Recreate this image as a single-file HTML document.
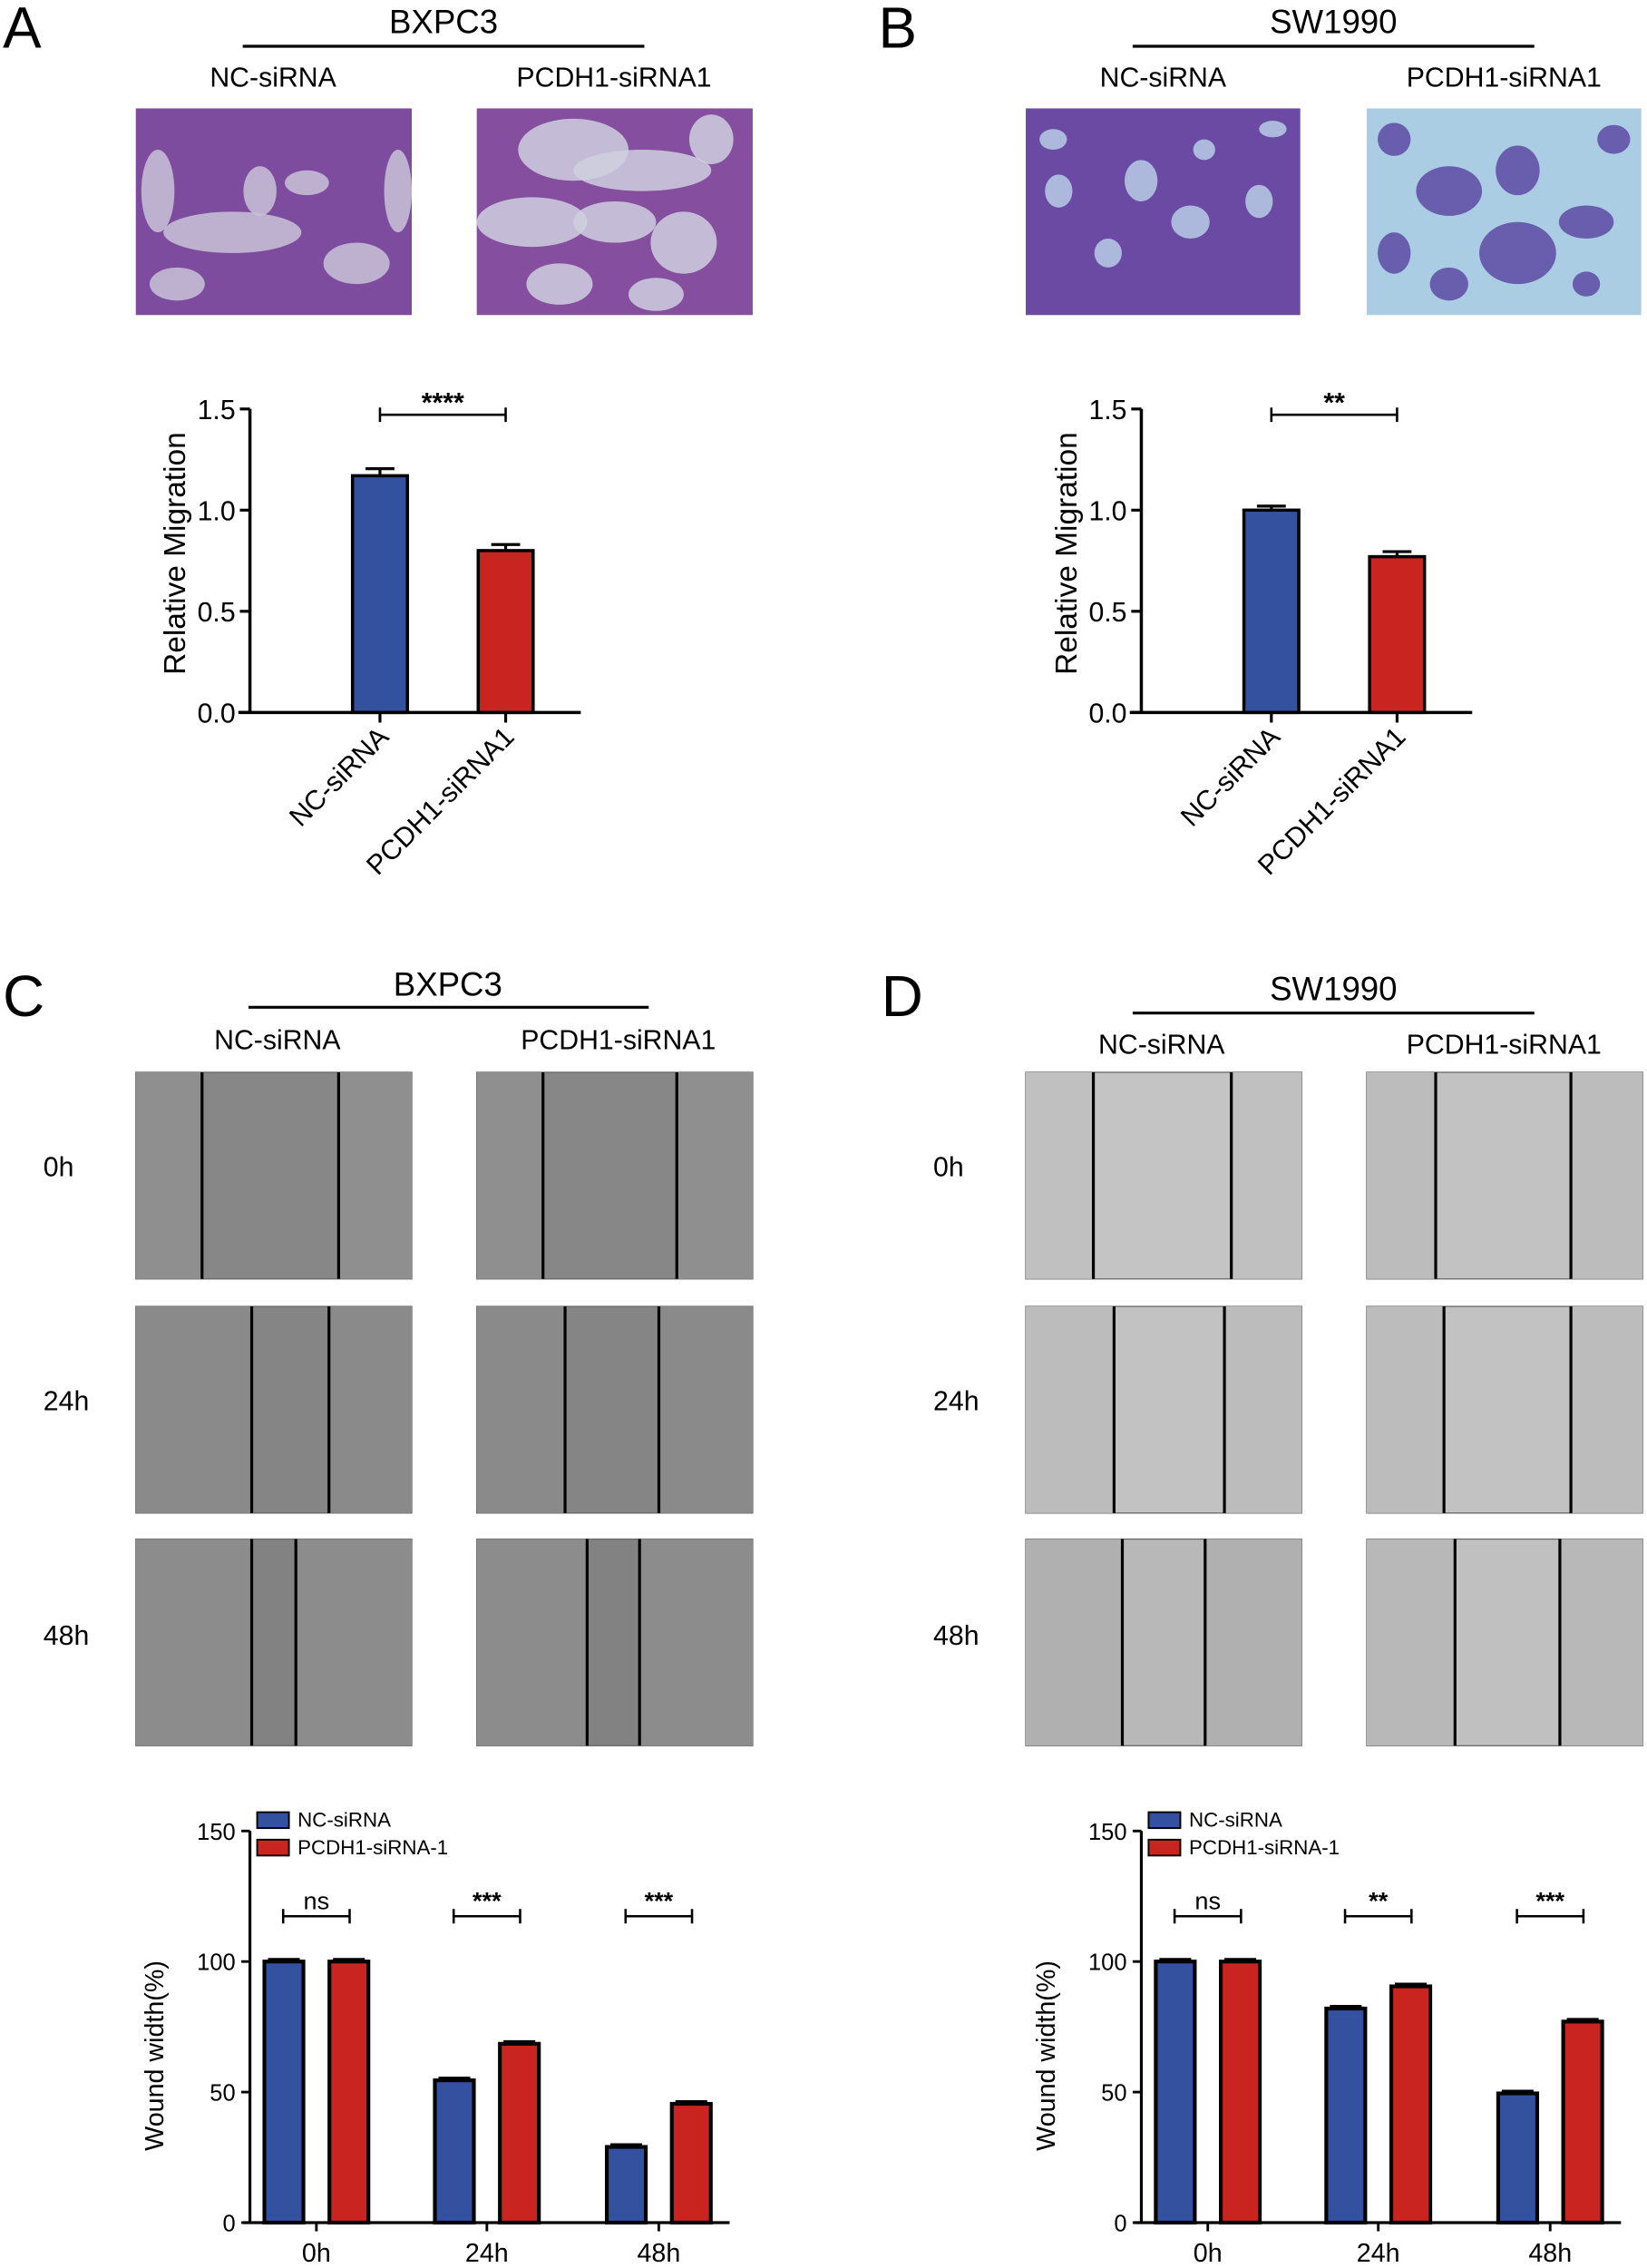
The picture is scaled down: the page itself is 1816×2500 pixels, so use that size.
<!DOCTYPE html>
<html><head><meta charset="utf-8"><style>
html,body{margin:0;padding:0;background:#fff}
svg{display:block;font-family:"Liberation Sans",sans-serif}
</style></head><body>
<svg id="fig" width="1816" height="2500" viewBox="0 0 1140 1569.4" xmlns="http://www.w3.org/2000/svg">
<rect width="1140" height="1569.4" fill="#fff"/>
<g fill="#000">
<text x="2" y="33" font-size="40">A</text>
<text x="307" y="23" font-size="23" text-anchor="middle">BXPC3</text>
<line x1="168" x2="446" y1="32" y2="32" stroke="#000" stroke-width="2"/>
<text x="189" y="60" font-size="19" text-anchor="middle">NC-siRNA</text>
<text x="425" y="60" font-size="19" text-anchor="middle">PCDH1-siRNA1</text>
</g>
<g fill="#000">
<text x="608" y="33" font-size="40">B</text>
<text x="923" y="23" font-size="23" text-anchor="middle">SW1990</text>
<line x1="784" x2="1062" y1="32" y2="32" stroke="#000" stroke-width="2"/>
<text x="805" y="60" font-size="19" text-anchor="middle">NC-siRNA</text>
<text x="1041" y="60" font-size="19" text-anchor="middle">PCDH1-siRNA1</text>
</g>
<g fill="#000">
<text x="2" y="703" font-size="40">C</text>
<text x="310" y="689" font-size="23" text-anchor="middle">BXPC3</text>
<line x1="172" x2="449" y1="697" y2="697" stroke="#000" stroke-width="2"/>
<text x="192" y="726" font-size="19" text-anchor="middle">NC-siRNA</text>
<text x="428" y="726" font-size="19" text-anchor="middle">PCDH1-siRNA1</text>
<text x="30" y="814" font-size="19">0h</text>
<text x="30" y="976" font-size="19">24h</text>
<text x="30" y="1138" font-size="19">48h</text>
</g>
<g fill="#000">
<text x="610" y="703" font-size="40">D</text>
<text x="923" y="692" font-size="23" text-anchor="middle">SW1990</text>
<line x1="784" x2="1062" y1="701" y2="701" stroke="#000" stroke-width="2"/>
<text x="804" y="729" font-size="19" text-anchor="middle">NC-siRNA</text>
<text x="1041" y="729" font-size="19" text-anchor="middle">PCDH1-siRNA1</text>
<text x="646" y="814" font-size="19">0h</text>
<text x="646" y="976" font-size="19">24h</text>
<text x="646" y="1138" font-size="19">48h</text>
</g>
<g id="images"></g>
<g id="charts"></g>
</svg>
<script>
// ---- Chart data ----
const migCategories = ["NC-siRNA", "PCDH1-siRNA1"];
const migTicks = ["0.0", "0.5", "1.0", "1.5"];
const migTickValues = [0, 0.5, 1.0, 1.5];
const migBxpc3 = [1.17, 0.80];
const migBxpc3Err = [0.035, 0.03];
const migSw1990 = [1.00, 0.77];
const migSw1990Err = [0.02, 0.025];
const migSigA = "****";
const migSigB = "**";

const woundCategories = ["0h", "24h", "48h"];
const woundTicks = ["0", "50", "100", "150"];
const woundTickValues = [0, 50, 100, 150];
const woundSeries = ["NC-siRNA", "PCDH1-siRNA-1"];
const woundBxpc3Nc = [100, 54.5, 29];
const woundBxpc3Pc = [100, 68.5, 45.5];
const woundSw1990Nc = [100, 82, 49.5];
const woundSw1990Pc = [100, 90.5, 77];
const woundSigC = ["ns", "***", "***"];
const woundSigD = ["ns", "**", "***"];

const NS = "http://www.w3.org/2000/svg";
const BLUE = "#34519f", RED = "#c9241f";
function mk(tag, attrs, parent) {
  const e = document.createElementNS(NS, tag);
  for (const k in attrs) e.setAttribute(k, attrs[k]);
  parent.appendChild(e);
  return e;
}
const charts = document.getElementById('charts');
const images = document.getElementById('images');

function blobs(g, x, y, w, h, color, list) {
  list.forEach(b => {
    mk('ellipse', {cx: x + b[0] * w, cy: y + b[1] * h, rx: b[2] * w, ry: b[3] * h, fill: color, opacity: 0.85}, g);
  });
}
function micro(x, y, w, h, base, blobColor, list, name) {
  const g = mk('g', {}, images);
  
  
  mk('rect', {x: x, y: y, width: w, height: h, fill: base}, g);
  blobs(g, x, y, w, h, blobColor, list);
  return g;
}
micro(94, 75, 191, 143, "#7d4c9e", "#c9c3d8", [[0.08,0.4,0.06,0.2],[0.35,0.6,0.25,0.1],[0.45,0.4,0.06,0.12],[0.62,0.36,0.08,0.06],[0.8,0.75,0.12,0.1],[0.95,0.4,0.05,0.2],[0.15,0.85,0.1,0.08]], "transwell-bxpc3-nc");
micro(330, 75, 191, 143, "#854e9e", "#cfd0df", [[0.35,0.2,0.2,0.15],[0.6,0.3,0.25,0.1],[0.2,0.55,0.2,0.12],[0.5,0.55,0.15,0.1],[0.75,0.65,0.12,0.15],[0.85,0.15,0.08,0.12],[0.3,0.85,0.12,0.1],[0.65,0.9,0.1,0.08]], "transwell-bxpc3-pcdh1");
micro(710, 75, 190, 143, "#6a4aa3", "#b7cde6", [[0.1,0.15,0.05,0.05],[0.12,0.4,0.05,0.08],[0.42,0.35,0.06,0.1],[0.6,0.55,0.07,0.08],[0.3,0.7,0.05,0.07],[0.85,0.45,0.05,0.08],[0.9,0.1,0.05,0.04],[0.65,0.2,0.04,0.05]], "transwell-sw1990-nc");
micro(946, 75, 190, 143, "#aacde3", "#5d4aa3", [[0.1,0.15,0.06,0.08],[0.3,0.4,0.12,0.12],[0.55,0.3,0.08,0.12],[0.55,0.7,0.14,0.15],[0.8,0.55,0.1,0.08],[0.9,0.15,0.06,0.07],[0.1,0.7,0.06,0.1],[0.3,0.85,0.07,0.08],[0.8,0.85,0.05,0.06]], "transwell-sw1990-pcdh1");

function wound(x, y, base, cellColor, l, r, name) {
  const w = 191, h = 143;
  const g = mk('g', {}, images);
  
  
  mk('rect', {x: x, y: y, width: w, height: h, fill: base, stroke: "#666", "stroke-width": 0.8}, g);
  mk('rect', {x: x, y: y, width: l * w, height: h, fill: cellColor}, g);
  mk('rect', {x: x + r * w, y: y, width: (1 - r) * w, height: h, fill: cellColor}, g);
  mk('line', {x1: x + l * w, x2: x + l * w, y1: y, y2: y + h, stroke: "#000", "stroke-width": 2}, g);
  mk('line', {x1: x + r * w, x2: x + r * w, y1: y, y2: y + h, stroke: "#000", "stroke-width": 2}, g);
}
const rowsY = [742, 904, 1065];
wound(94, rowsY[0], "#878787", "#8f8f8f", 0.24, 0.735, "wound-bxpc3-nc-0h");
wound(330, rowsY[0], "#878787", "#8f8f8f", 0.24, 0.725, "wound-bxpc3-pcdh1-0h");
wound(94, rowsY[1], "#858585", "#8a8a8a", 0.42, 0.7, "wound-bxpc3-nc-24h");
wound(330, rowsY[1], "#858585", "#8a8a8a", 0.32, 0.66, "wound-bxpc3-pcdh1-24h");
wound(94, rowsY[2], "#828282", "#8c8c8c", 0.42, 0.58, "wound-bxpc3-nc-48h");
wound(330, rowsY[2], "#828282", "#8c8c8c", 0.4, 0.59, "wound-bxpc3-pcdh1-48h");
wound(710, rowsY[0], "#c4c4c4", "#c0c0c0", 0.245, 0.745, "wound-sw1990-nc-0h");
wound(946, rowsY[0], "#c2c2c2", "#bcbcbc", 0.25, 0.74, "wound-sw1990-pcdh1-0h");
wound(710, rowsY[1], "#c2c2c2", "#bcbcbc", 0.32, 0.72, "wound-sw1990-nc-24h");
wound(946, rowsY[1], "#c2c2c2", "#bcbcbc", 0.28, 0.74, "wound-sw1990-pcdh1-24h");
wound(710, rowsY[2], "#b8b8b8", "#b0b0b0", 0.35, 0.65, "wound-sw1990-nc-48h");
wound(946, rowsY[2], "#c0c0c0", "#b8b8b8", 0.32, 0.7, "wound-sw1990-pcdh1-48h");

function migChart(ox, vals, errs, sig, name) {
  const g = mk('g', {}, charts);
  
  
  const axisX = ox + 173, y0 = 493, y1 = 283, vmax = 1.5;
  const yS = v => y0 - (v / vmax) * (y0 - y1);
  const centers = [ox + 263, ox + 350];
  const bw = 38;
  const ax = mk('path', {d: `M${axisX},${y1} V${y0} M${ox+165},${y0} H${ox+402}`, stroke: "#000", "stroke-width": 2.2, fill: "none"}, g);
  
  
  migTickValues.forEach((v, i) => {
    mk('line', {x1: axisX - 7, x2: axisX, y1: yS(v), y2: yS(v), stroke: "#000", "stroke-width": 2}, g);
    const t = mk('text', {x: axisX - 10, y: yS(v) + 7, "font-size": 19, "text-anchor": "end"}, g);
    
    
    t.textContent = migTicks[i];
  });
  const yt = mk('text', {x: 0, y: 0, "font-size": 21, "text-anchor": "middle", transform: `translate(${ox+129},${(y0+y1)/2-5}) rotate(-90)`}, g);
  yt.setAttribute('transform', `translate(${ox+128},${(y0+y1)/2-5}) rotate(-90)`);
  
  
  yt.textContent = "Relative Migration";
  vals.forEach((v, i) => {
    const c = centers[i];
    mk('line', {x1: c, x2: c, y1: yS(v), y2: yS(v + errs[i]), stroke: "#000", "stroke-width": 2}, g);
    mk('line', {x1: c - 10, x2: c + 10, y1: yS(v + errs[i]), y2: yS(v + errs[i]), stroke: "#000", "stroke-width": 2}, g);
    const b = mk('rect', {x: c - bw / 2, y: yS(v), width: bw, height: y0 - yS(v), fill: i ? RED : BLUE, stroke: "#000", "stroke-width": 2.2}, g);
    
    
    mk('line', {x1: c, x2: c, y1: y0, y2: y0 + 7, stroke: "#000", "stroke-width": 2}, g);
    const t = mk('text', {x: 0, y: 0, "font-size": 19, "text-anchor": "end", transform: `translate(${c+7},${y0+18}) rotate(-45)`}, g);
    
    
    t.textContent = migCategories[i];
  });
  mk('path', {d: `M${centers[0]},${282} V${292} M${centers[0]},287 H${centers[1]} M${centers[1]},282 V292`, stroke: "#000", "stroke-width": 1.6, fill: "none"}, g);
  const s = mk('text', {x: (centers[0] + centers[1]) / 2, y: 285, "font-size": 19, "font-weight": "bold", "text-anchor": "middle"}, g);
  
  
  s.textContent = sig;
}
migChart(0, migBxpc3, migBxpc3Err, migSigA, "migration-chart-bxpc3");
migChart(617, migSw1990, migSw1990Err, migSigB, "migration-chart-sw1990");

function woundChart(ox, nc, pc, sigs, name) {
  const g = mk('g', {}, charts);
  
  
  const axisX = ox + 173, y0 = 1538, y1 = 1267, vmax = 150;
  const yS = v => y0 - (v / vmax) * (y0 - y1);
  const groups = [ox + 219, ox + 337, ox + 456];
  const bw = 27, off = 22.5;
  const ax = mk('path', {d: `M${axisX},${y1} V${y0} M${ox+168},${y0} H${ox+505}`, stroke: "#000", "stroke-width": 2, fill: "none"}, g);
  
  
  woundTickValues.forEach((v, i) => {
    mk('line', {x1: axisX - 6, x2: axisX, y1: yS(v), y2: yS(v), stroke: "#000", "stroke-width": 1.8}, g);
    const t = mk('text', {x: axisX - 10, y: yS(v) + 6, "font-size": 16, "text-anchor": "end"}, g);
    
    
    t.textContent = woundTicks[i];
  });
  const yt = mk('text', {x: 0, y: 0, "font-size": 18, "text-anchor": "middle", transform: `translate(${ox+113},${(y0+y1)/2+20}) rotate(-90)`}, g);
  
  
  yt.textContent = "Wound width(%)";
  [nc, pc].forEach((series, si) => {
    series.forEach((v, i) => {
      const c = groups[i] + (si ? off : -off);
      const b = mk('rect', {x: c - bw / 2, y: yS(v), width: bw, height: y0 - yS(v), fill: si ? RED : BLUE, stroke: "#000", "stroke-width": 2.6}, g);
      
      
      mk('line', {x1: c - 11, x2: c + 11, y1: yS(v) - 1.5, y2: yS(v) - 1.5, stroke: "#000", "stroke-width": 2}, g);
    });
  });
  groups.forEach((gx, i) => {
    mk('line', {x1: gx, x2: gx, y1: y0, y2: y0 + 6, stroke: "#000", "stroke-width": 1.8}, g);
    const t = mk('text', {x: gx, y: y0 + 27, "font-size": 18, "text-anchor": "middle"}, g);
    
    
    t.textContent = woundCategories[i];
    const by = 1326;
    mk('path', {d: `M${gx-23},${by-5} V${by+5} M${gx-23},${by} H${gx+23} M${gx+23},${by-5} V${by+5}`, stroke: "#000", "stroke-width": 1.6, fill: "none"}, g);
    const s = mk('text', {x: gx, y: by - 5, "font-size": 17, "text-anchor": "middle", "font-weight": sigs[i] === "ns" ? "normal" : "bold"}, g);
    
    
    s.textContent = sigs[i];
  });
  [BLUE, RED].forEach((col, i) => {
    const ly = 1254 + i * 19;
    const r = mk('rect', {x: ox + 178, y: ly, width: 22, height: 11, fill: col, stroke: "#000", "stroke-width": 1.2}, g);
    
    
    const t = mk('text', {x: ox + 206, y: ly + 10, "font-size": 14}, g);
    
    
    t.textContent = woundSeries[i];
  });
}
woundChart(0, woundBxpc3Nc, woundBxpc3Pc, woundSigC, "wound-chart-bxpc3");
woundChart(617, woundSw1990Nc, woundSw1990Pc, woundSigD, "wound-chart-sw1990");
</script>
</body></html>
